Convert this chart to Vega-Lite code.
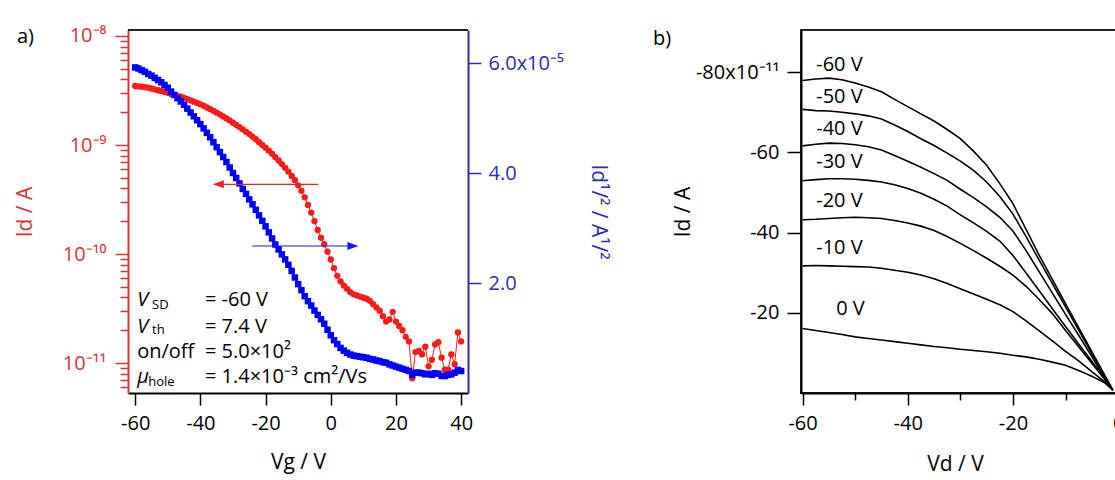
{
  "$schema": "https://vega.github.io/schema/vega-lite/v6.json",
  "padding": {"left": 14, "top": 25, "right": 0, "bottom": 0},
  "bounds": "flush",
  "spacing": 333,
  "config": {
    "font": "Open Sans",
    "view": {"stroke": null},
    "axis": {"grid": false, "labelFontSize": 20, "titleFontSize": 21, "titleFontWeight": "normal", "labelColor": "black", "titleColor": "black", "domainColor": "black", "tickColor": "black", "domainWidth": 2, "tickWidth": 1.5, "labelFont": "Open Sans", "titleFont": "Open Sans"},
    "title": {"font": "Open Sans", "fontSize": 20, "fontWeight": "normal", "anchor": "start", "frame": "group", "color": "black"}
  },
  "datasets": {
    "red": [
      {"Vg": -60, "Id": 3.48e-9}, {"Vg": -59, "Id": 3.45e-9}, {"Vg": -58, "Id": 3.43e-9}, {"Vg": -57, "Id": 3.40e-9}, {"Vg": -56, "Id": 3.36e-9},
      {"Vg": -55, "Id": 3.30e-9}, {"Vg": -54, "Id": 3.24e-9}, {"Vg": -53, "Id": 3.18e-9}, {"Vg": -52, "Id": 3.13e-9}, {"Vg": -51, "Id": 3.07e-9},
      {"Vg": -50, "Id": 3.01e-9}, {"Vg": -49, "Id": 2.94e-9}, {"Vg": -48, "Id": 2.88e-9}, {"Vg": -47, "Id": 2.82e-9}, {"Vg": -46, "Id": 2.77e-9},
      {"Vg": -45, "Id": 2.71e-9}, {"Vg": -44, "Id": 2.64e-9}, {"Vg": -43, "Id": 2.57e-9}, {"Vg": -42, "Id": 2.50e-9}, {"Vg": -41, "Id": 2.43e-9},
      {"Vg": -40, "Id": 2.36e-9}, {"Vg": -39, "Id": 2.29e-9}, {"Vg": -38, "Id": 2.21e-9}, {"Vg": -37, "Id": 2.13e-9}, {"Vg": -36, "Id": 2.06e-9},
      {"Vg": -35, "Id": 1.98e-9}, {"Vg": -34, "Id": 1.91e-9}, {"Vg": -33, "Id": 1.83e-9}, {"Vg": -32, "Id": 1.75e-9}, {"Vg": -31, "Id": 1.68e-9},
      {"Vg": -30, "Id": 1.60e-9}, {"Vg": -29, "Id": 1.53e-9}, {"Vg": -28, "Id": 1.46e-9}, {"Vg": -27, "Id": 1.39e-9}, {"Vg": -26, "Id": 1.32e-9},
      {"Vg": -25, "Id": 1.26e-9}, {"Vg": -24, "Id": 1.19e-9}, {"Vg": -23, "Id": 1.13e-9}, {"Vg": -22, "Id": 1.06e-9}, {"Vg": -21, "Id": 1.00e-9},
      {"Vg": -20, "Id": 9.46e-10}, {"Vg": -19, "Id": 8.87e-10}, {"Vg": -18, "Id": 8.30e-10}, {"Vg": -17, "Id": 7.74e-10}, {"Vg": -16, "Id": 7.21e-10},
      {"Vg": -15, "Id": 6.68e-10}, {"Vg": -14, "Id": 6.17e-10}, {"Vg": -13, "Id": 5.69e-10}, {"Vg": -12, "Id": 5.21e-10}, {"Vg": -11, "Id": 4.76e-10},
      {"Vg": -10, "Id": 4.27e-10}, {"Vg": -9, "Id": 3.80e-10}, {"Vg": -8, "Id": 3.31e-10}, {"Vg": -7, "Id": 2.82e-10}, {"Vg": -6, "Id": 2.40e-10},
      {"Vg": -5, "Id": 2.00e-10}, {"Vg": -4, "Id": 1.66e-10}, {"Vg": -3, "Id": 1.41e-10}, {"Vg": -2, "Id": 1.23e-10}, {"Vg": -1, "Id": 1.05e-10},
      {"Vg": 0, "Id": 8.91e-11}, {"Vg": 1, "Id": 7.41e-11}, {"Vg": 2, "Id": 6.31e-11}, {"Vg": 3, "Id": 5.62e-11}, {"Vg": 4, "Id": 5.13e-11},
      {"Vg": 5, "Id": 4.79e-11}, {"Vg": 6, "Id": 4.47e-11}, {"Vg": 7, "Id": 4.27e-11}, {"Vg": 8, "Id": 4.17e-11}, {"Vg": 9, "Id": 4.07e-11},
      {"Vg": 10, "Id": 3.98e-11}, {"Vg": 11, "Id": 3.89e-11}, {"Vg": 12, "Id": 3.72e-11}, {"Vg": 13, "Id": 3.47e-11}, {"Vg": 14, "Id": 3.24e-11},
      {"Vg": 15, "Id": 3.02e-11}, {"Vg": 16, "Id": 2.69e-11}, {"Vg": 17, "Id": 2.40e-11}, {"Vg": 18, "Id": 2.51e-11}, {"Vg": 19, "Id": 2.95e-11},
      {"Vg": 20, "Id": 2.40e-11}, {"Vg": 21, "Id": 2.19e-11}, {"Vg": 22, "Id": 2.00e-11}, {"Vg": 23, "Id": 1.74e-11}, {"Vg": 24, "Id": 1.58e-11},
      {"Vg": 25, "Id": 7.24e-12}, {"Vg": 26, "Id": 1.26e-11}, {"Vg": 27, "Id": 1.29e-11}, {"Vg": 28, "Id": 1.20e-11}, {"Vg": 29, "Id": 1.41e-11},
      {"Vg": 30, "Id": 9.33e-12}, {"Vg": 31, "Id": 1.07e-11}, {"Vg": 32, "Id": 1.48e-11}, {"Vg": 33, "Id": 1.55e-11}, {"Vg": 34, "Id": 1.12e-11},
      {"Vg": 35, "Id": 8.71e-12}, {"Vg": 36, "Id": 8.71e-12}, {"Vg": 37, "Id": 1.20e-11}, {"Vg": 38, "Id": 9.77e-12}, {"Vg": 39, "Id": 1.91e-11},
      {"Vg": 40, "Id": 1.58e-11}
    ],
    "blue": [
      {"Vg": -60, "sqrtId": 5.92e-5}, {"Vg": -59, "sqrtId": 5.90e-5}, {"Vg": -58, "sqrtId": 5.87e-5}, {"Vg": -57, "sqrtId": 5.84e-5}, {"Vg": -56, "sqrtId": 5.80e-5},
      {"Vg": -55, "sqrtId": 5.77e-5}, {"Vg": -54, "sqrtId": 5.73e-5}, {"Vg": -53, "sqrtId": 5.69e-5}, {"Vg": -52, "sqrtId": 5.65e-5}, {"Vg": -51, "sqrtId": 5.60e-5},
      {"Vg": -50, "sqrtId": 5.55e-5}, {"Vg": -49, "sqrtId": 5.48e-5}, {"Vg": -48, "sqrtId": 5.42e-5}, {"Vg": -47, "sqrtId": 5.36e-5}, {"Vg": -46, "sqrtId": 5.30e-5},
      {"Vg": -45, "sqrtId": 5.24e-5}, {"Vg": -44, "sqrtId": 5.17e-5}, {"Vg": -43, "sqrtId": 5.10e-5}, {"Vg": -42, "sqrtId": 5.03e-5}, {"Vg": -41, "sqrtId": 4.96e-5},
      {"Vg": -40, "sqrtId": 4.89e-5}, {"Vg": -39, "sqrtId": 4.81e-5}, {"Vg": -38, "sqrtId": 4.73e-5}, {"Vg": -37, "sqrtId": 4.65e-5}, {"Vg": -36, "sqrtId": 4.56e-5},
      {"Vg": -35, "sqrtId": 4.47e-5}, {"Vg": -34, "sqrtId": 4.38e-5}, {"Vg": -33, "sqrtId": 4.29e-5}, {"Vg": -32, "sqrtId": 4.20e-5}, {"Vg": -31, "sqrtId": 4.10e-5},
      {"Vg": -30, "sqrtId": 4.00e-5}, {"Vg": -29, "sqrtId": 3.91e-5}, {"Vg": -28, "sqrtId": 3.81e-5}, {"Vg": -27, "sqrtId": 3.71e-5}, {"Vg": -26, "sqrtId": 3.62e-5},
      {"Vg": -25, "sqrtId": 3.52e-5}, {"Vg": -24, "sqrtId": 3.43e-5}, {"Vg": -23, "sqrtId": 3.33e-5}, {"Vg": -22, "sqrtId": 3.23e-5}, {"Vg": -21, "sqrtId": 3.13e-5},
      {"Vg": -20, "sqrtId": 3.03e-5}, {"Vg": -19, "sqrtId": 2.92e-5}, {"Vg": -18, "sqrtId": 2.81e-5}, {"Vg": -17, "sqrtId": 2.70e-5}, {"Vg": -16, "sqrtId": 2.61e-5},
      {"Vg": -15, "sqrtId": 2.52e-5}, {"Vg": -14, "sqrtId": 2.43e-5}, {"Vg": -13, "sqrtId": 2.33e-5}, {"Vg": -12, "sqrtId": 2.22e-5}, {"Vg": -11, "sqrtId": 2.10e-5},
      {"Vg": -10, "sqrtId": 1.98e-5}, {"Vg": -9, "sqrtId": 1.87e-5}, {"Vg": -8, "sqrtId": 1.76e-5}, {"Vg": -7, "sqrtId": 1.67e-5}, {"Vg": -6, "sqrtId": 1.59e-5},
      {"Vg": -5, "sqrtId": 1.50e-5}, {"Vg": -4, "sqrtId": 1.42e-5}, {"Vg": -3, "sqrtId": 1.34e-5}, {"Vg": -2, "sqrtId": 1.26e-5}, {"Vg": -1, "sqrtId": 1.15e-5},
      {"Vg": 0, "sqrtId": 1.05e-5}, {"Vg": 1, "sqrtId": 0.96e-5}, {"Vg": 2, "sqrtId": 0.89e-5}, {"Vg": 3, "sqrtId": 0.82e-5}, {"Vg": 4, "sqrtId": 0.77e-5},
      {"Vg": 5, "sqrtId": 0.73e-5}, {"Vg": 6, "sqrtId": 0.70e-5}, {"Vg": 7, "sqrtId": 0.68e-5}, {"Vg": 8, "sqrtId": 0.67e-5}, {"Vg": 9, "sqrtId": 0.66e-5},
      {"Vg": 10, "sqrtId": 0.65e-5}, {"Vg": 11, "sqrtId": 0.64e-5}, {"Vg": 12, "sqrtId": 0.62e-5}, {"Vg": 13, "sqrtId": 0.61e-5}, {"Vg": 14, "sqrtId": 0.59e-5},
      {"Vg": 15, "sqrtId": 0.58e-5}, {"Vg": 16, "sqrtId": 0.56e-5}, {"Vg": 17, "sqrtId": 0.55e-5}, {"Vg": 18, "sqrtId": 0.52e-5}, {"Vg": 19, "sqrtId": 0.50e-5},
      {"Vg": 20, "sqrtId": 0.48e-5}, {"Vg": 21, "sqrtId": 0.46e-5}, {"Vg": 22, "sqrtId": 0.44e-5}, {"Vg": 23, "sqrtId": 0.42e-5}, {"Vg": 24, "sqrtId": 0.40e-5},
      {"Vg": 25, "sqrtId": 0.33e-5}, {"Vg": 26, "sqrtId": 0.37e-5}, {"Vg": 27, "sqrtId": 0.37e-5}, {"Vg": 28, "sqrtId": 0.36e-5}, {"Vg": 29, "sqrtId": 0.34e-5},
      {"Vg": 30, "sqrtId": 0.35e-5}, {"Vg": 31, "sqrtId": 0.33e-5}, {"Vg": 32, "sqrtId": 0.36e-5}, {"Vg": 33, "sqrtId": 0.35e-5}, {"Vg": 34, "sqrtId": 0.31e-5},
      {"Vg": 35, "sqrtId": 0.31e-5}, {"Vg": 36, "sqrtId": 0.33e-5}, {"Vg": 37, "sqrtId": 0.34e-5}, {"Vg": 38, "sqrtId": 0.37e-5}, {"Vg": 39, "sqrtId": 0.42e-5},
      {"Vg": 40, "sqrtId": 0.40e-5}
    ],
    "arrows": [
      {"series": "Id", "start": -3.8, "end": -34.5, "level": 3.795e-5},
      {"series": "sqrtId", "start": -24.1, "end": 6.8, "level": 2.673e-5}
    ],
    "annItalic": [
      {"t": "V", "Vg": -59.4, "Id": 3.33e-11},
      {"t": "V", "Vg": -59.4, "Id": 1.90e-11},
      {"t": "μ", "Vg": -59.4, "Id": 6.62e-12}
    ],
    "annSub": [
      {"t": "SD", "Vg": -54.8, "Id": 3.14e-11},
      {"t": "th", "Vg": -54.8, "Id": 1.86e-11},
      {"t": "hole", "Vg": -56.0, "Id": 6.13e-12}
    ],
    "annMain": [
      {"t": "on/off", "Vg": -59.4, "Id": 1.12e-11},
      {"t": "= -60 V", "Vg": -38.6, "Id": 3.33e-11},
      {"t": "= 7.4 V", "Vg": -38.6, "Id": 1.90e-11},
      {"t": "= 5.0×10²", "Vg": -38.6, "Id": 1.12e-11},
      {"t": "= 1.4×10⁻³ cm²/Vs", "Vg": -38.6, "Id": 6.62e-12}
    ],
    "outlab": [
      {"label": "-60 V", "Vd": -57.4, "Id": -81.8e-11},
      {"label": "-50 V", "Vd": -57.4, "Id": -73.9e-11},
      {"label": "-40 V", "Vd": -57.4, "Id": -65.7e-11},
      {"label": "-30 V", "Vd": -57.4, "Id": -57.7e-11},
      {"label": "-20 V", "Vd": -57.4, "Id": -47.8e-11},
      {"label": "-10 V", "Vd": -57.4, "Id": -36.1e-11},
      {"label": "0 V", "Vd": -53.6, "Id": -21.0e-11}
    ],
    "out": [
      {"gate": "-60 V", "Vd": -60, "Id": -77.9e-11}, {"gate": "-60 V", "Vd": -57.5, "Id": -78.3e-11}, {"gate": "-60 V", "Vd": -55, "Id": -78.5e-11}, {"gate": "-60 V", "Vd": -52.5, "Id": -78.1e-11}, {"gate": "-60 V", "Vd": -50, "Id": -77.3e-11},
      {"gate": "-60 V", "Vd": -47.5, "Id": -76.3e-11}, {"gate": "-60 V", "Vd": -45, "Id": -75.1e-11}, {"gate": "-60 V", "Vd": -42.5, "Id": -73.2e-11}, {"gate": "-60 V", "Vd": -40, "Id": -71.4e-11}, {"gate": "-60 V", "Vd": -37.5, "Id": -69.6e-11},
      {"gate": "-60 V", "Vd": -35, "Id": -67.8e-11}, {"gate": "-60 V", "Vd": -32.5, "Id": -65.7e-11}, {"gate": "-60 V", "Vd": -30, "Id": -63.4e-11}, {"gate": "-60 V", "Vd": -27.5, "Id": -60.3e-11}, {"gate": "-60 V", "Vd": -25, "Id": -56.8e-11},
      {"gate": "-60 V", "Vd": -22.5, "Id": -52.2e-11}, {"gate": "-60 V", "Vd": -20, "Id": -47.2e-11}, {"gate": "-60 V", "Vd": -17.5, "Id": -40.8e-11}, {"gate": "-60 V", "Vd": -15, "Id": -34.3e-11}, {"gate": "-60 V", "Vd": -12.5, "Id": -28.3e-11},
      {"gate": "-60 V", "Vd": -10, "Id": -22.3e-11}, {"gate": "-60 V", "Vd": -7.5, "Id": -16.3e-11}, {"gate": "-60 V", "Vd": -5, "Id": -10.3e-11}, {"gate": "-60 V", "Vd": -2.5, "Id": -4.3e-11}, {"gate": "-60 V", "Vd": -1, "Id": -0.7e-11},

      {"gate": "-50 V", "Vd": -60, "Id": -70.7e-11}, {"gate": "-50 V", "Vd": -57.5, "Id": -70.4e-11}, {"gate": "-50 V", "Vd": -55, "Id": -70.3e-11}, {"gate": "-50 V", "Vd": -52.5, "Id": -70.0e-11}, {"gate": "-50 V", "Vd": -50, "Id": -69.6e-11},
      {"gate": "-50 V", "Vd": -47.5, "Id": -69.1e-11}, {"gate": "-50 V", "Vd": -45, "Id": -68.3e-11}, {"gate": "-50 V", "Vd": -42.5, "Id": -66.8e-11}, {"gate": "-50 V", "Vd": -40, "Id": -65.2e-11}, {"gate": "-50 V", "Vd": -37.5, "Id": -63.4e-11},
      {"gate": "-50 V", "Vd": -35, "Id": -61.7e-11}, {"gate": "-50 V", "Vd": -32.5, "Id": -59.8e-11}, {"gate": "-50 V", "Vd": -30, "Id": -57.8e-11}, {"gate": "-50 V", "Vd": -27.5, "Id": -55.5e-11}, {"gate": "-50 V", "Vd": -25, "Id": -52.6e-11},
      {"gate": "-50 V", "Vd": -22.5, "Id": -49.0e-11}, {"gate": "-50 V", "Vd": -20, "Id": -44.6e-11}, {"gate": "-50 V", "Vd": -17.5, "Id": -39.0e-11}, {"gate": "-50 V", "Vd": -15, "Id": -33.1e-11}, {"gate": "-50 V", "Vd": -12.5, "Id": -27.3e-11},
      {"gate": "-50 V", "Vd": -10, "Id": -21.5e-11}, {"gate": "-50 V", "Vd": -7.5, "Id": -15.7e-11}, {"gate": "-50 V", "Vd": -5, "Id": -9.9e-11}, {"gate": "-50 V", "Vd": -2.5, "Id": -4.1e-11}, {"gate": "-50 V", "Vd": -1, "Id": -0.7e-11},

      {"gate": "-40 V", "Vd": -60, "Id": -61.6e-11}, {"gate": "-40 V", "Vd": -57.5, "Id": -62.0e-11}, {"gate": "-40 V", "Vd": -55, "Id": -62.3e-11}, {"gate": "-40 V", "Vd": -52.5, "Id": -62.2e-11}, {"gate": "-40 V", "Vd": -50, "Id": -61.9e-11},
      {"gate": "-40 V", "Vd": -47.5, "Id": -61.4e-11}, {"gate": "-40 V", "Vd": -45, "Id": -60.6e-11}, {"gate": "-40 V", "Vd": -42.5, "Id": -59.2e-11}, {"gate": "-40 V", "Vd": -40, "Id": -57.8e-11}, {"gate": "-40 V", "Vd": -37.5, "Id": -56.3e-11},
      {"gate": "-40 V", "Vd": -35, "Id": -54.7e-11}, {"gate": "-40 V", "Vd": -32.5, "Id": -53.0e-11}, {"gate": "-40 V", "Vd": -30, "Id": -50.8e-11}, {"gate": "-40 V", "Vd": -27.5, "Id": -48.7e-11}, {"gate": "-40 V", "Vd": -25, "Id": -46.4e-11},
      {"gate": "-40 V", "Vd": -22.5, "Id": -43.8e-11}, {"gate": "-40 V", "Vd": -20, "Id": -40.4e-11}, {"gate": "-40 V", "Vd": -17.5, "Id": -35.5e-11}, {"gate": "-40 V", "Vd": -15, "Id": -30.2e-11}, {"gate": "-40 V", "Vd": -12.5, "Id": -24.9e-11},
      {"gate": "-40 V", "Vd": -10, "Id": -19.6e-11}, {"gate": "-40 V", "Vd": -7.5, "Id": -14.4e-11}, {"gate": "-40 V", "Vd": -5, "Id": -9.1e-11}, {"gate": "-40 V", "Vd": -2.5, "Id": -3.8e-11}, {"gate": "-40 V", "Vd": -1, "Id": -0.7e-11},

      {"gate": "-30 V", "Vd": -60, "Id": -52.9e-11}, {"gate": "-30 V", "Vd": -57.5, "Id": -53.2e-11}, {"gate": "-30 V", "Vd": -55, "Id": -53.4e-11}, {"gate": "-30 V", "Vd": -52.5, "Id": -53.4e-11}, {"gate": "-30 V", "Vd": -50, "Id": -53.3e-11},
      {"gate": "-30 V", "Vd": -47.5, "Id": -53.0e-11}, {"gate": "-30 V", "Vd": -45, "Id": -52.6e-11}, {"gate": "-30 V", "Vd": -42.5, "Id": -51.9e-11}, {"gate": "-30 V", "Vd": -40, "Id": -51.0e-11}, {"gate": "-30 V", "Vd": -37.5, "Id": -49.8e-11},
      {"gate": "-30 V", "Vd": -35, "Id": -48.3e-11}, {"gate": "-30 V", "Vd": -32.5, "Id": -46.6e-11}, {"gate": "-30 V", "Vd": -30, "Id": -44.4e-11}, {"gate": "-30 V", "Vd": -27.5, "Id": -42.4e-11}, {"gate": "-30 V", "Vd": -25, "Id": -40.3e-11},
      {"gate": "-30 V", "Vd": -22.5, "Id": -37.9e-11}, {"gate": "-30 V", "Vd": -20, "Id": -34.3e-11}, {"gate": "-30 V", "Vd": -17.5, "Id": -29.9e-11}, {"gate": "-30 V", "Vd": -15, "Id": -25.5e-11}, {"gate": "-30 V", "Vd": -12.5, "Id": -21.0e-11},
      {"gate": "-30 V", "Vd": -10, "Id": -16.6e-11}, {"gate": "-30 V", "Vd": -7.5, "Id": -12.2e-11}, {"gate": "-30 V", "Vd": -5, "Id": -7.9e-11}, {"gate": "-30 V", "Vd": -2.5, "Id": -3.6e-11}, {"gate": "-30 V", "Vd": -1, "Id": -0.7e-11},

      {"gate": "-20 V", "Vd": -60, "Id": -43.2e-11}, {"gate": "-20 V", "Vd": -57.5, "Id": -43.3e-11}, {"gate": "-20 V", "Vd": -55, "Id": -43.5e-11}, {"gate": "-20 V", "Vd": -52.5, "Id": -43.7e-11}, {"gate": "-20 V", "Vd": -50, "Id": -43.8e-11},
      {"gate": "-20 V", "Vd": -47.5, "Id": -43.7e-11}, {"gate": "-20 V", "Vd": -45, "Id": -43.5e-11}, {"gate": "-20 V", "Vd": -42.5, "Id": -43.0e-11}, {"gate": "-20 V", "Vd": -40, "Id": -42.4e-11}, {"gate": "-20 V", "Vd": -37.5, "Id": -41.6e-11},
      {"gate": "-20 V", "Vd": -35, "Id": -40.5e-11}, {"gate": "-20 V", "Vd": -32.5, "Id": -39.0e-11}, {"gate": "-20 V", "Vd": -30, "Id": -37.3e-11}, {"gate": "-20 V", "Vd": -27.5, "Id": -35.5e-11}, {"gate": "-20 V", "Vd": -25, "Id": -33.6e-11},
      {"gate": "-20 V", "Vd": -22.5, "Id": -31.6e-11}, {"gate": "-20 V", "Vd": -20, "Id": -29.4e-11}, {"gate": "-20 V", "Vd": -17.5, "Id": -26.6e-11}, {"gate": "-20 V", "Vd": -15, "Id": -23.3e-11}, {"gate": "-20 V", "Vd": -12.5, "Id": -19.8e-11},
      {"gate": "-20 V", "Vd": -10, "Id": -15.6e-11}, {"gate": "-20 V", "Vd": -7.5, "Id": -11.5e-11}, {"gate": "-20 V", "Vd": -5, "Id": -7.4e-11}, {"gate": "-20 V", "Vd": -2.5, "Id": -3.3e-11}, {"gate": "-20 V", "Vd": -1, "Id": -0.7e-11},

      {"gate": "-10 V", "Vd": -60, "Id": -31.7e-11}, {"gate": "-10 V", "Vd": -57.5, "Id": -31.8e-11}, {"gate": "-10 V", "Vd": -55, "Id": -31.7e-11}, {"gate": "-10 V", "Vd": -52.5, "Id": -31.6e-11}, {"gate": "-10 V", "Vd": -50, "Id": -31.5e-11},
      {"gate": "-10 V", "Vd": -47.5, "Id": -31.4e-11}, {"gate": "-10 V", "Vd": -45, "Id": -31.1e-11}, {"gate": "-10 V", "Vd": -42.5, "Id": -30.6e-11}, {"gate": "-10 V", "Vd": -40, "Id": -30.1e-11}, {"gate": "-10 V", "Vd": -37.5, "Id": -29.4e-11},
      {"gate": "-10 V", "Vd": -35, "Id": -28.5e-11}, {"gate": "-10 V", "Vd": -32.5, "Id": -27.3e-11}, {"gate": "-10 V", "Vd": -30, "Id": -26.0e-11}, {"gate": "-10 V", "Vd": -27.5, "Id": -24.7e-11}, {"gate": "-10 V", "Vd": -25, "Id": -23.4e-11},
      {"gate": "-10 V", "Vd": -22.5, "Id": -22.0e-11}, {"gate": "-10 V", "Vd": -20, "Id": -20.3e-11}, {"gate": "-10 V", "Vd": -17.5, "Id": -18.0e-11}, {"gate": "-10 V", "Vd": -15, "Id": -15.5e-11}, {"gate": "-10 V", "Vd": -12.5, "Id": -13.0e-11},
      {"gate": "-10 V", "Vd": -10, "Id": -10.4e-11}, {"gate": "-10 V", "Vd": -7.5, "Id": -8.0e-11}, {"gate": "-10 V", "Vd": -5, "Id": -5.3e-11}, {"gate": "-10 V", "Vd": -2.5, "Id": -2.7e-11}, {"gate": "-10 V", "Vd": -1, "Id": -0.7e-11},

      {"gate": "0 V", "Vd": -60, "Id": -16.1e-11}, {"gate": "0 V", "Vd": -57.5, "Id": -15.6e-11}, {"gate": "0 V", "Vd": -55, "Id": -15.1e-11}, {"gate": "0 V", "Vd": -52.5, "Id": -14.6e-11}, {"gate": "0 V", "Vd": -50, "Id": -14.0e-11},
      {"gate": "0 V", "Vd": -47.5, "Id": -13.6e-11}, {"gate": "0 V", "Vd": -45, "Id": -13.2e-11}, {"gate": "0 V", "Vd": -42.5, "Id": -12.8e-11}, {"gate": "0 V", "Vd": -40, "Id": -12.4e-11}, {"gate": "0 V", "Vd": -37.5, "Id": -12.0e-11},
      {"gate": "0 V", "Vd": -35, "Id": -11.6e-11}, {"gate": "0 V", "Vd": -32.5, "Id": -11.3e-11}, {"gate": "0 V", "Vd": -30, "Id": -10.9e-11}, {"gate": "0 V", "Vd": -27.5, "Id": -10.6e-11}, {"gate": "0 V", "Vd": -25, "Id": -10.3e-11},
      {"gate": "0 V", "Vd": -22.5, "Id": -9.9e-11}, {"gate": "0 V", "Vd": -20, "Id": -9.4e-11}, {"gate": "0 V", "Vd": -17.5, "Id": -9.0e-11}, {"gate": "0 V", "Vd": -15, "Id": -8.4e-11}, {"gate": "0 V", "Vd": -12.5, "Id": -7.7e-11},
      {"gate": "0 V", "Vd": -10, "Id": -6.9e-11}, {"gate": "0 V", "Vd": -7.5, "Id": -5.6e-11}, {"gate": "0 V", "Vd": -5, "Id": -4.2e-11}, {"gate": "0 V", "Vd": -2.5, "Id": -2.5e-11}, {"gate": "0 V", "Vd": -1, "Id": -0.7e-11}
    ]
  },
  "hconcat": [
    {
      "width": 340,
      "height": 363,
      "title": {"text": "a)", "dx": -111, "dy": 25},
      "layer": [
        {
          "layer": [
            {
              "data": {"name": "red"},
              "mark": {"type": "line", "color": "#ff1a1a", "strokeWidth": 1},
              "encoding": {
                "x": {"field": "Vg", "type": "quantitative", "scale": {"domain": [-62.2, 42.1], "nice": false, "zero": false},
                  "axis": {"values": [-60, -40, -20, 0, 20, 40], "tickSize": 12, "labelPadding": 8, "labelExpr": "datum.value < 0 ? '-' + abs(datum.value) : '' + datum.value", "title": "Vg / V", "titlePadding": 18}},
                "y": {"field": "Id", "type": "quantitative", "scale": {"type": "log", "domain": [5.31e-12, 1.135e-8], "nice": false},
                  "axis": {"orient": "left", "values": [1e-11, 1e-10, 1e-9, 1e-8], "tickSize": 13, "labelPadding": 9, "domainColor": "#d9343a", "tickColor": "#d9343a", "labelColor": "#d9343a", "titleColor": "#d9343a", "title": "Id / A", "titlePadding": 27,
                    "labelExpr": "'10' + (datum.value > 5e-9 ? '⁻⁸' : datum.value > 5e-10 ? '⁻⁹' : datum.value > 5e-11 ? '⁻¹⁰' : '⁻¹¹')"}}
              }
            },
            {
              "data": {"name": "red"},
              "mark": {"type": "point", "shape": "circle", "filled": true, "color": "#ff1a1a", "size": 40, "opacity": 1},
              "encoding": {
                "x": {"field": "Vg", "type": "quantitative"},
                "y": {"field": "Id", "type": "quantitative"}
              }
            },
            {
              "data": {"name": "annItalic"},
              "mark": {"type": "text", "align": "left", "baseline": "alphabetic", "fontSize": 20, "fontStyle": "italic", "color": "black"},
              "encoding": {
                "x": {"field": "Vg", "type": "quantitative"},
                "y": {"field": "Id", "type": "quantitative"},
                "text": {"field": "t"}
              }
            },
            {
              "data": {"name": "annSub"},
              "mark": {"type": "text", "align": "left", "baseline": "alphabetic", "fontSize": 13, "color": "black"},
              "encoding": {
                "x": {"field": "Vg", "type": "quantitative"},
                "y": {"field": "Id", "type": "quantitative"},
                "text": {"field": "t"}
              }
            },
            {
              "data": {"name": "annMain"},
              "mark": {"type": "text", "align": "left", "baseline": "alphabetic", "fontSize": 20, "color": "black"},
              "encoding": {
                "x": {"field": "Vg", "type": "quantitative"},
                "y": {"field": "Id", "type": "quantitative"},
                "text": {"field": "t"}
              }
            }
          ]
        },
        {
          "layer": [
            {
              "data": {"name": "blue"},
              "mark": {"type": "line", "color": "#0000ff", "strokeWidth": 1.5},
              "encoding": {
                "x": {"field": "Vg", "type": "quantitative"},
                "y": {"field": "sqrtId", "type": "quantitative", "scale": {"domain": [0, 6.6e-5], "nice": false, "zero": false},
                  "axis": {"orient": "right", "values": [2e-5, 4e-5, 6e-5], "tickSize": 13, "labelPadding": 7, "domainColor": "#2e2eab", "tickColor": "#2e2eab", "labelColor": "#2e2eab", "titleColor": "#2e2eab", "title": "Id¹/² / A¹/²", "titlePadding": 24, "titleAngle": 90,
                    "labelExpr": "datum.value > 5.9e-5 ? '6.0x10⁻⁵' : format(datum.value * 1e5, '.1f')"}}
              }
            },
            {
              "data": {"name": "blue"},
              "mark": {"type": "point", "shape": "square", "filled": true, "color": "#0000ff", "size": 42, "opacity": 1},
              "encoding": {
                "x": {"field": "Vg", "type": "quantitative"},
                "y": {"field": "sqrtId", "type": "quantitative"}
              }
            },
            {
              "data": {"name": "arrows"},
              "mark": {"type": "rule", "strokeWidth": 1.2},
              "encoding": {
                "x": {"field": "start", "type": "quantitative"},
                "x2": {"field": "end"},
                "y": {"field": "level", "type": "quantitative"},
                "color": {"field": "series", "type": "nominal", "scale": {"domain": ["Id", "sqrtId"], "range": ["#ee2222", "#1a1aee"]}, "legend": null}
              }
            },
            {
              "data": {"name": "arrows"},
              "mark": {"type": "point", "filled": true, "size": 121, "opacity": 1},
              "encoding": {
                "x": {"field": "end", "type": "quantitative"},
                "y": {"field": "level", "type": "quantitative"},
                "color": {"field": "series", "type": "nominal", "scale": {"domain": ["Id", "sqrtId"], "range": ["#ee2222", "#1a1aee"]}, "legend": null},
                "shape": {"field": "series", "type": "nominal", "scale": {"domain": ["Id", "sqrtId"], "range": ["M-1,0L1,-0.72L1,0.72Z", "M1,0L-1,-0.72L-1,0.72Z"]}, "legend": null}
              }
            },
            {
              "data": {"values": [{"left": -62.2, "right": 42.1, "top": 6.6e-5}]},
              "mark": {"type": "rule", "color": "#222222", "strokeWidth": 2},
              "encoding": {
                "x": {"field": "left", "type": "quantitative"},
                "x2": {"field": "right"},
                "y": {"field": "top", "type": "quantitative"}
              }
            }
          ]
        },
        {
          "data": {"name": "red"},
          "mark": {"type": "line", "opacity": 0},
          "encoding": {
            "x": {"field": "Vg", "type": "quantitative"},
            "y": {"field": "Id", "type": "quantitative", "scale": {"type": "log", "domain": [5.31e-12, 1.135e-8], "nice": false},
              "axis": {"orient": "left", "values": [9e-9, 8e-9, 7e-9, 6e-9, 5e-9, 4e-9, 3e-9, 2e-9, 9e-10, 8e-10, 7e-10, 6e-10, 5e-10, 4e-10, 3e-10, 2e-10, 9e-11, 8e-11, 7e-11, 6e-11, 5e-11, 4e-11, 3e-11, 2e-11, 9e-12, 8e-12, 7e-12, 6e-12],
                "tickSize": 8, "labels": false, "domain": false, "title": null, "tickColor": "#d9343a"}}
          }
        }
      ],
      "resolve": {"scale": {"y": "independent"}}
    },
    {
      "width": 325,
      "height": 363,
      "view": {"stroke": "#222222", "strokeWidth": 2},
      "title": {"text": "b)", "dx": -148, "dy": 23},
      "layer": [
        {
          "layer": [
            {
              "data": {"name": "out"},
              "mark": {"type": "line", "color": "black", "strokeWidth": 1.6},
              "encoding": {
                "x": {"field": "Vd", "type": "quantitative", "scale": {"domain": [-60.3, 1.5], "nice": false, "zero": false},
                  "axis": {"values": [-60, -40, -20, 0], "tickSize": 12, "labelPadding": 8, "labelExpr": "datum.value < 0 ? '-' + abs(datum.value) : '' + datum.value", "title": "Vd / V", "titlePadding": 20, "titleX": 154}},
                "y": {"field": "Id", "type": "quantitative", "scale": {"domain": [-9.05e-10, 0], "reverse": true, "nice": false, "zero": false},
                  "axis": {"orient": "left", "values": [-8e-10, -6e-10, -4e-10, -2e-10], "tickSize": 14, "labelPadding": 8, "title": "Id / A", "titleX": -108,
                    "labelExpr": "datum.value < -7.9e-10 ? '-80x10⁻¹¹' : '-' + format(abs(datum.value) * 1e11, '.0f')"}},
                "detail": {"field": "gate", "type": "nominal"}
              }
            },
            {
              "data": {"name": "outlab"},
              "mark": {"type": "text", "align": "left", "baseline": "middle", "fontSize": 20, "color": "black"},
              "encoding": {
                "x": {"field": "Vd", "type": "quantitative"},
                "y": {"field": "Id", "type": "quantitative"},
                "text": {"field": "label"}
              }
            }
          ]
        },
        {
          "data": {"name": "out"},
          "mark": {"type": "line", "opacity": 0},
          "encoding": {
            "x": {"field": "Vd", "type": "quantitative", "scale": {"domain": [-60.3, 1.5], "nice": false, "zero": false},
              "axis": {"orient": "bottom", "values": [-50, -30, -10], "tickSize": 7, "labels": false, "domain": false, "title": null}},
            "y": {"field": "Id", "type": "quantitative"},
            "detail": {"field": "gate", "type": "nominal"}
          }
        }
      ],
      "resolve": {"scale": {"x": "independent"}}
    }
  ]
}
